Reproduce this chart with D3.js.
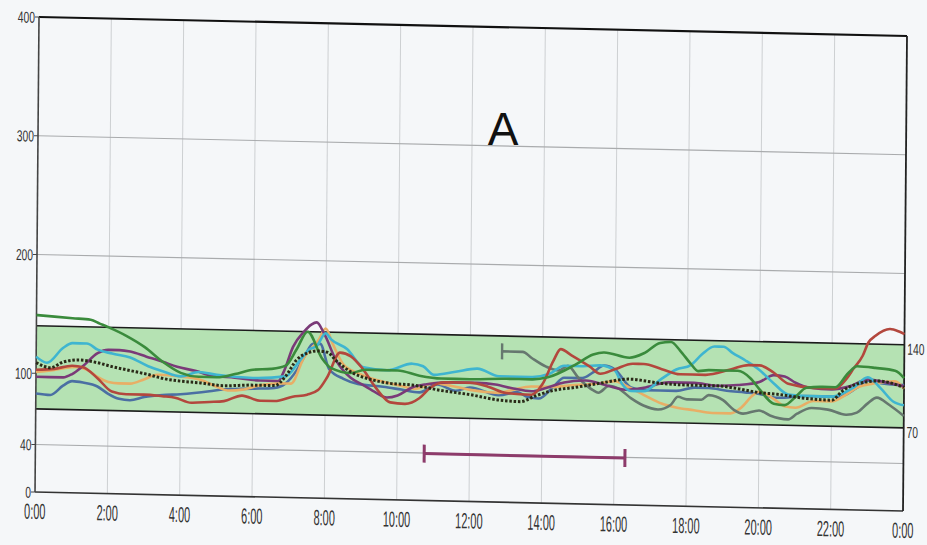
<!DOCTYPE html>
<html><head><meta charset="utf-8">
<script src="https://cdn.jsdelivr.net/npm/d3@7/dist/d3.min.js"></script>
<style>html,body{margin:0;padding:0;background:#f5f7f9;}svg{display:block}</style>
</head><body>
<svg id="chart" width="927" height="545"></svg>
<script>
// ---------- data ----------
const hourTicks = [0,2,4,6,8,10,12,14,16,18,20,22,24];
const hourLabels = ["0:00","2:00","4:00","6:00","8:00","10:00","12:00","14:00","16:00","18:00","20:00","22:00","0:00"];
const yTicks = [0,40,100,200,300,400];
const yGridLines = [40,200,300];
const targetRange = [70,140];
const eventBar = [10.75,16.3,39.5];

const green = [[0,149],[0.5,148],[1,147],[1.5,146],[1.75,143],[2,140],[2.5,133],[3,124],[3.5,112],[4,103],[4.5,100],[5,100],[5.5,103],[6,107],[6.5,108],[6.9,111],[7.2,125],[7.5,140],[7.9,118],[8.15,110],[8.7,106],[9.1,109],[10,109],[10.6,105],[11.2,103],[12,103],[13,104],[13.7,104],[14.15,106],[14.9,117],[15.4,126],[15.7,128],[16.4,124],[16.8,128],[17.25,137],[17.55,138],[17.8,131],[18.1,120],[18.3,114],[18.6,115],[19.4,115],[19.75,109],[20,100],[20.4,88],[20.7,87],[21,94],[21.3,102],[21.75,103],[22.1,103],[22.45,115],[22.7,121],[23.2,120],[23.75,118],[24,112]];
const cyan = [[0,114],[0.3,109],[0.75,122],[1,126],[1.4,126],[1.7,121],[2.1,118],[2.6,115],[3.1,108],[3.5,104],[4,100],[4.5,104],[5,102],[6,100],[6.9,102],[7.3,116],[7.55,125],[7.75,128],[8.0,139],[8.15,134],[8.6,126],[9.05,111],[9.7,109],[10.4,115],[10.7,113],[11.0,106],[11.6,109],[12.2,112],[12.8,106],[13.7,106],[14.2,109],[14.6,116],[15.1,116],[15.6,117],[16.0,113],[16.2,102],[16.45,96],[16.8,96],[17.3,107],[17.7,115],[18.1,119],[18.4,128],[18.75,135],[19.0,135],[19.25,130],[19.6,124],[20.0,116],[20.4,105],[20.8,96],[21.3,95],[22.0,95],[22.6,103],[23.0,112],[23.35,103],[23.7,92],[24,89]];
const red = [[0,103],[0.5,104],[1.0,107],[1.3,106],[1.7,97],[2.1,86],[2.5,84],[3,84],[3.5,83],[3.85,82],[4.3,78],[4.8,79],[5.2,80],[5.7,85],[6.2,81],[6.6,81],[7.1,85],[7.5,87],[7.8,91],[8.05,102],[8.4,123],[8.7,120],[9.0,111],[9.4,94],[9.8,82],[10.2,81],[10.6,86],[10.9,95],[11.3,100],[12,100],[12.5,97],[13,92],[13.7,91],[14.0,100],[14.3,120],[14.5,130],[14.8,125],[15.3,116],[15.6,110],[16.0,114],[16.5,119],[16.8,119],[17.3,115],[17.8,111],[18.5,111],[19.2,116],[19.7,120],[20,120],[20.4,114],[20.8,105],[21.5,102],[22.1,102],[22.4,110],[22.6,119],[22.85,130],[23.0,141],[23.2,147],[23.6,153],[23.85,151],[24,149]];
const purple = [[0,97],[0.75,97],[1.0,100],[1.3,107],[1.7,118],[2.0,121],[2.3,121],[2.6,120],[3.05,116],[3.5,112],[3.9,108],[4.4,105],[4.9,101],[5.5,100],[6.2,98],[6.7,98],[6.85,106],[7.1,127],[7.4,140],[7.6,146],[7.75,148],[7.95,139],[8.3,116],[8.7,102],[9.05,96],[9.4,90],[9.7,86],[10.0,88],[10.4,95],[10.8,98],[11.5,100],[12.2,100],[12.7,99],[13.2,96],[13.7,94],[14.1,97],[14.6,102],[15.2,104],[15.8,100],[16.3,97],[16.8,99],[17.5,104],[18.2,104],[18.8,102],[19.4,103],[20.0,106],[20.4,112],[20.7,111],[21.0,106],[21.4,102],[22,101],[22.5,104],[23,110],[23.5,108],[24,105]];
const steelBlue = [[0,83],[0.4,82],[0.75,90],[1.0,94],[1.3,93],[1.7,90],[2.0,84],[2.3,80],[2.6,79],[3,82],[3.5,84],[4,85],[4.8,88],[5.2,90],[6,91],[6.6,92],[6.9,96],[7.2,107],[7.45,121],[7.65,130],[7.85,130],[8.1,109],[8.5,101],[8.9,97],[9.6,95],[10.1,93],[10.6,91],[11.1,98],[11.6,93],[12,96],[12.8,90],[13.3,93],[13.6,89],[13.9,88],[14.3,98],[14.6,106],[15.1,106],[15.4,111],[15.7,117],[16.0,114],[16.45,99],[16.8,97],[17.7,97],[18.2,100],[18.6,100],[19.1,98],[19.6,97],[20.0,96],[20.5,93],[21.3,95],[22.2,95],[22.7,103],[23.0,109],[23.4,107],[24,106]];
const orange = [[0,101],[0.5,103],[0.8,105],[1.1,106],[1.4,104],[1.7,98],[2.0,94],[2.3,93],[2.6,93],[3.0,97],[3.35,101],[4,100],[4.5,98],[5,92],[5.3,89],[5.7,90],[6.2,94],[6.8,96],[7.05,96],[7.4,118],[7.8,133],[8.0,143],[8.2,130],[8.5,113],[8.9,106],[9.5,100],[10.1,96],[10.5,94],[11,99],[11.5,97],[12,94],[12.8,92],[13.2,95],[13.7,98],[14.2,98],[14.9,100],[15.6,102],[16,104],[16.4,99],[16.8,93],[17.3,86],[17.7,83],[18.2,81],[18.7,79],[19.2,79],[19.5,84],[19.8,94],[20.0,98],[20.4,92],[20.7,86],[21,85],[21.5,91],[22,91],[22.4,97],[22.7,103],[23.2,107],[23.75,109],[24,103]];
const gray = [[12.88,127],[13.45,127],[13.7,122],[14.1,115],[14.45,112],[14.7,116],[15.0,106],[15.4,96],[15.55,94],[15.85,100],[16.1,98],[16.45,90],[16.8,84],[17.2,81],[17.55,85],[17.75,92],[18.0,90],[18.4,90],[18.6,94],[19.0,90],[19.3,82],[19.55,79],[20.0,82],[20.3,78],[20.8,75],[21.05,80],[21.45,85],[21.9,84],[22.4,80],[22.7,82],[23.0,90],[23.25,95],[23.6,89],[24,80]];
const median = [[0,109],[0.4,105],[0.75,110],[1.2,112],[1.7,110],[2.1,107],[2.6,104],[3.1,101],[3.5,98],[4,96],[4.5,95],[5.2,93],[6,94],[6.6,94],[6.9,102],[7.2,116],[7.5,122],[7.8,124],[8.05,123],[8.3,116],[8.7,107],[9.25,101],[9.8,98],[10.4,97],[11.2,93],[12,90],[12.8,86],[13.4,85],[13.8,90],[14.3,95],[14.9,98],[15.6,102],[16.4,106],[17.3,103],[18.2,102],[18.8,102],[19.4,100],[20,97],[20.5,96],[21.3,93],[22,92],[22.3,100],[22.8,107],[23.3,109],[24,104]];

// ---------- layout ----------
const W = 868, H = 475;
const svg = d3.select("#chart");
svg.append("rect").attr("width",927).attr("height",545).attr("fill","#f5f7f9");

const g = svg.append("g").attr("transform","matrix(1,0.0219,-0.0084,1,39,17)");
const x = d3.scaleLinear().domain([0,24]).range([0,W]);
const y = d3.scaleLinear().domain([0,400]).range([H,0]);

// vertical grid
g.selectAll(".vg").data(hourTicks.slice(1,-1)).enter().append("line")
  .attr("x1",d=>x(d)).attr("x2",d=>x(d)).attr("y1",0).attr("y2",H)
  .attr("stroke","#cdd0d2").attr("stroke-width",1);
// horizontal grid
g.selectAll(".hg").data(yGridLines).enter().append("line")
  .attr("x1",0).attr("x2",W).attr("y1",d=>y(d)).attr("y2",d=>y(d))
  .attr("stroke","#a9abad").attr("stroke-width",1.2);

// target band
g.append("rect").attr("x",0).attr("width",W)
  .attr("y",y(targetRange[1])).attr("height",y(targetRange[0])-y(targetRange[1]))
  .attr("fill","#b5e2b3");
targetRange.forEach(v=>{
  g.append("line").attr("x1",0).attr("x2",W).attr("y1",y(v)).attr("y2",y(v))
   .attr("stroke","#1c1c1c").attr("stroke-width",1.6);
});

// frame
g.append("line").attr("x1",0).attr("x2",W).attr("y1",0).attr("y2",0).attr("stroke","#111").attr("stroke-width",2.2);
g.append("line").attr("x1",0).attr("x2",W).attr("y1",H).attr("y2",H).attr("stroke","#333").attr("stroke-width",1.6);
g.append("line").attr("x1",0).attr("x2",0).attr("y1",0).attr("y2",H).attr("stroke","#444").attr("stroke-width",1.6);
g.append("line").attr("x1",W).attr("x2",W).attr("y1",0).attr("y2",H).attr("stroke","#222").attr("stroke-width",1.8);

// left ticks and labels
g.selectAll(".yt").data(yTicks).enter().append("line")
  .attr("x1",-4).attr("x2",0).attr("y1",d=>y(d)).attr("y2",d=>y(d)).attr("stroke","#444");
g.selectAll(".yl").data(yTicks).enter().append("text")
  .attr("transform",d=>`translate(-4,${y(d)+6}) scale(0.64,1)`)
  .attr("text-anchor","end").attr("font-family","Liberation Sans, Arial, sans-serif")
  .attr("font-size",16).attr("fill","#333").text(d=>d);
// right labels
g.selectAll(".rl").data(targetRange).enter().append("text")
  .attr("transform",d=>`translate(${W+3},${y(d)+10}) scale(0.64,1)`)
  .attr("font-family","Liberation Sans, Arial, sans-serif")
  .attr("font-size",16).attr("fill","#333").text(d=>d);
// x labels
g.selectAll(".xl").data(hourTicks).enter().append("text")
  .attr("transform",(d,i)=>`translate(${x(d)},${H+27}) scale(0.5,1)`)
  .attr("text-anchor","middle").attr("font-family","Liberation Sans, Arial, sans-serif")
  .attr("font-size",22).attr("fill","#333").text((d,i)=>hourLabels[i]);

// event bar
const eb = g.append("g").attr("stroke","#8d3b6b").attr("stroke-width",3);
eb.append("line").attr("x1",x(eventBar[0])).attr("x2",x(eventBar[1])).attr("y1",y(eventBar[2])).attr("y2",y(eventBar[2]));
[eventBar[0],eventBar[1]].forEach(h=>{
  eb.append("line").attr("x1",x(h)).attr("x2",x(h)).attr("y1",y(eventBar[2])-9).attr("y2",y(eventBar[2])+9);
});

// series
const line = d3.line().x(d=>x(d[0])).y(d=>y(d[1])).curve(d3.curveMonotoneX);
const series = [
  {d:steelBlue,c:"#4b6fa3"},
  {d:orange,c:"#e8ae66"},
  {d:gray,c:"#66786f"},
  {d:purple,c:"#7a3a78"},
  {d:cyan,c:"#3fb5d0"},
  {d:red,c:"#b3473d"},
  {d:green,c:"#3a8b3c"}
];
series.forEach(s=>{
  g.append("path").attr("d",line(s.d)).attr("fill","none")
   .attr("stroke",s.c).attr("stroke-width",2.6).attr("stroke-linejoin","round");
});
// gray series start marker
g.append("line").attr("x1",x(gray[0][0])).attr("x2",x(gray[0][0]))
  .attr("y1",y(gray[0][1])-8).attr("y2",y(gray[0][1])+8)
  .attr("stroke","#66786f").attr("stroke-width",2.4);
// median dotted
g.append("path").attr("d",line(median)).attr("fill","none")
  .attr("stroke","#2a2a18").attr("stroke-width",3).attr("stroke-dasharray","2.5,1.8");

// panel letter
svg.append("text").attr("x",503).attr("y",145).attr("text-anchor","middle")
  .attr("font-family","Liberation Sans, Arial, sans-serif").attr("font-size",46)
  .attr("fill","#111").text("A");
</script>
</body></html>
